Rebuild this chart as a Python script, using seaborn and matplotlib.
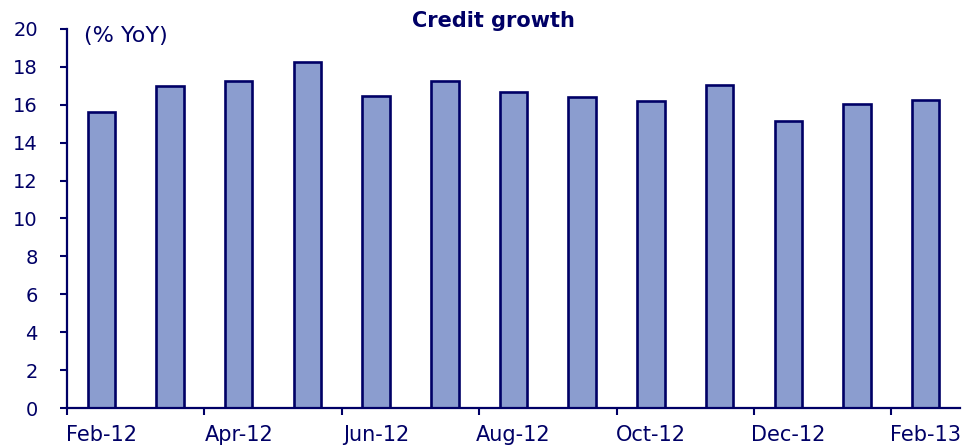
import matplotlib
matplotlib.use("Agg")
import matplotlib.pyplot as plt
import seaborn as sns
import pandas as pd

months = ["Feb-12", "Mar-12", "Apr-12", "May-12", "Jun-12", "Jul-12", "Aug-12",
          "Sep-12", "Oct-12", "Nov-12", "Dec-12", "Jan-13", "Feb-13"]
credit_growth = [15.64, 16.99, 17.27, 18.26, 16.46, 17.26, 16.68,
                 16.41, 16.22, 17.05, 15.15, 16.04, 16.27]
y_ticks = [0, 2, 4, 6, 8, 10, 12, 14, 16, 18, 20]

NAVY = "#000066"
FILL = "#8B9DCF"

sns.set_theme(style="white")
plt.rcParams["font.family"] = ["DejaVu Sans"]

df = pd.DataFrame({"month": months, "value": credit_growth})

fig = plt.figure(figsize=(9.78, 4.48), dpi=100)
ax = fig.add_axes([67 / 978, 40 / 448, 893 / 978, 379 / 448])

sns.barplot(data=df, x="month", y="value", order=months, color=FILL,
            width=0.40, edgecolor=NAVY, linewidth=1.9, saturation=1, ax=ax)
for p in ax.patches:
    p.set_facecolor(FILL)

ax.set_xlim(-0.5, len(months) - 0.5)
ax.set_ylim(0, 20)
ax.set_yticks(y_ticks)
ax.set_yticklabels([str(v) for v in y_ticks], color=NAVY, fontsize=14)

# major ticks at category boundaries (every 2), labels on categories (minor)
ax.set_xticks([i - 0.5 for i in range(0, len(months), 2)])
ax.set_xticklabels([])
ax.set_xticks(list(range(0, len(months), 2)), minor=True)
ax.set_xticklabels([months[i] for i in range(0, len(months), 2)], minor=True,
                   color=NAVY, fontsize=15)
ax.tick_params(axis="x", which="major", direction="out", length=5, width=1.5,
               color=NAVY, bottom=True)
ax.tick_params(axis="x", which="minor", length=0, pad=12)
ax.tick_params(axis="y", direction="out", length=5, width=1.5, color=NAVY,
               left=True, pad=16)

ax.set_xlabel("")
ax.set_ylabel("")
for s in ["top", "right"]:
    ax.spines[s].set_visible(False)
for s in ["left", "bottom"]:
    ax.spines[s].set_color(NAVY)
    ax.spines[s].set_linewidth(1.6)

fig.text(493 / 978, 1 - 21 / 448, "Credit growth", ha="center", va="center",
         fontsize=15, fontweight="bold", color=NAVY)
fig.text(84 / 978, 1 - 26 / 448, "(% YoY)", ha="left", va="top",
         fontsize=16, color=NAVY)

fig.savefig("out.png", dpi=100)
